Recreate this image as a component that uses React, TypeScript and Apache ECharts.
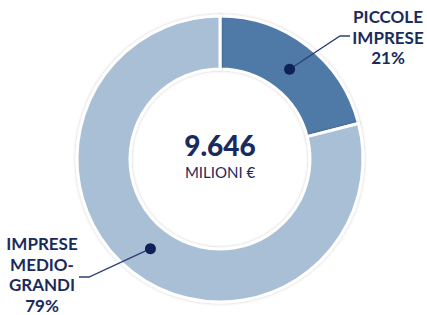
import React, { useEffect, useRef } from "react";
import * as echarts from "echarts";

const categories = ["PICCOLE IMPRESE", "IMPRESE MEDIO-GRANDI"];
const values = [2026, 7620];
const labelLines = [["PICCOLE", "IMPRESE"], ["IMPRESE", "MEDIO-", "GRANDI"]];
const totalText = "9.646";
const unitText = "MILIONI €";
const colors = ["#4f79a6", "#a9bfd6"];

const CX = 220, CY = 159, R_IN = 90, R_OUT = 143;
const NAVY = "#1b2a5c";

export default function App() {
  const ref = useRef<HTMLDivElement>(null);
  useEffect(() => {
    if (!ref.current) return;
    const chart = echarts.init(ref.current, undefined, { renderer: "svg" });
    const total = values.reduce((a, b) => a + b, 0);
    const pct = values.map((v) => Math.round((v / total) * 100));
    let acc = 0;
    const dots = values.map((v) => {
      const mid = (acc + v / 2) / total;
      acc += v;
      const a = mid * 2 * Math.PI;
      const r = (R_IN + R_OUT) / 2 - 3;
      return [CX + r * Math.sin(a), CY - r * Math.cos(a)];
    });
    const font = "Lato, 'Open Sans', sans-serif";
    const lh = 20.5;
    const labelBlocks = [
      { x: 388, y: 8, lines: [...labelLines[0], pct[0] + "%"], elbow: [340, 36], end: [350, 36] },
      { x: 42, y: 235, lines: [...labelLines[1], pct[1] + "%"], elbow: [89, 277], end: [79, 277] },
    ];
    const graphics: any[] = [];
    labelBlocks.forEach((b, i) => {
      graphics.push({
        type: "polyline",
        shape: { points: [dots[i], b.elbow, b.end] },
        style: { stroke: "#2a3f74", lineWidth: 1.3, fill: null },
        z: 10,
      });
      graphics.push({
        type: "circle",
        shape: { cx: dots[i][0], cy: dots[i][1], r: 5.5 },
        style: { fill: "#0f2257" },
        z: 11,
      });
      b.lines.forEach((t, j) => {
        graphics.push({
          type: "text",
          x: b.x,
          y: b.y + j * lh,
          style: {
            text: t,
            fill: NAVY,
            font: `bold 17px ${font}`,
            textAlign: "center",
            textVerticalAlign: "top",
          },
          z: 10,
        });
      });
    });
    graphics.push({
      type: "text",
      x: CX,
      y: 145,
      style: { text: totalText, fill: NAVY, font: `900 28px ${font}`, textAlign: "center", textVerticalAlign: "middle" },
    });
    graphics.push({
      type: "text",
      x: CX,
      y: 172,
      style: { text: unitText, fill: NAVY, font: `15px ${font}`, textAlign: "center", textVerticalAlign: "middle" },
    });

    chart.setOption({
      animation: false,
      series: [
        {
          type: "pie",
          center: [CX, CY],
          radius: [R_IN, R_OUT],
          startAngle: 90,
          clockwise: true,
          label: { show: false },
          labelLine: { show: false },
          emphasis: { disabled: true },
          itemStyle: {
            borderColor: "#ffffff",
            borderWidth: 3,
            shadowBlur: 3,
            shadowColor: "rgba(0,0,0,0.22)",
          },
          data: categories.map((c, i) => ({ name: c, value: values[i], itemStyle: { color: colors[i] } })),
        },
      ],
      graphic: graphics,
    });
    return () => chart.dispose();
  }, []);
  return <div ref={ref} style={{ position: "fixed", left: 0, top: 0, width: 427, height: 315, background: "#fff" }} />;
}
